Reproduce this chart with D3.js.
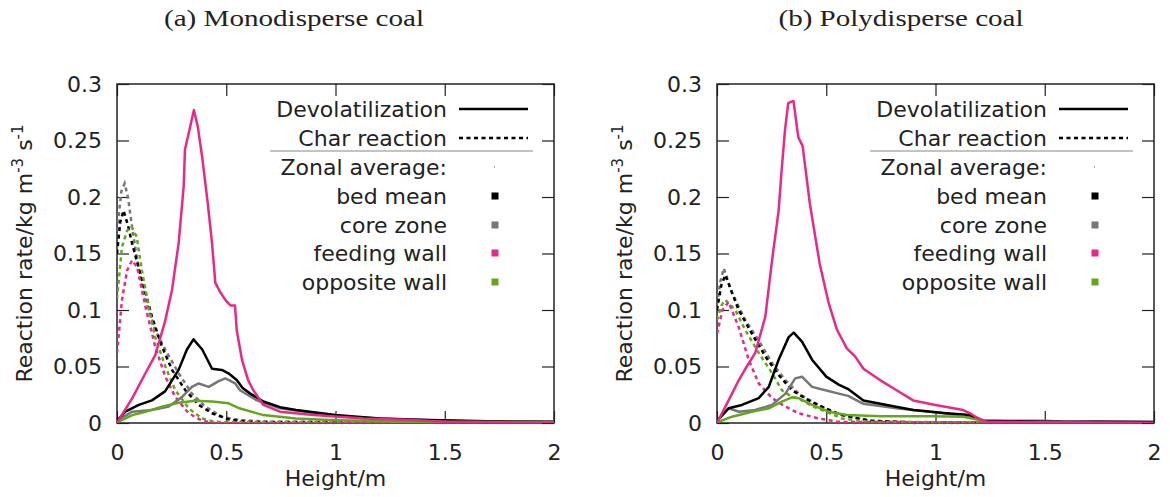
<!DOCTYPE html>
<html>
<head>
<meta charset="utf-8">
<script src="https://cdn.jsdelivr.net/npm/d3@7"></script>
<style>
  body { margin: 0; background: #fff; }
  svg text { fill: #222; }
</style>
</head>
<body>
<div id="myChart"></div>
<script>
// tick values / labels
let xTicks = [0, 0.5, 1, 1.5, 2];
let xTickLabels = ["0", "0.5", "1", "1.5", "2"];
let yTicks = [0, 0.05, 0.1, 0.15, 0.2, 0.25, 0.3];
let yTickLabels = ["0", "0.05", "0.1", "0.15", "0.2", "0.25", "0.3"];

let titles = ["(a) Monodisperse coal", "(b) Polydisperse coal"];
let zones = ["bed mean", "core zone", "feeding wall", "opposite wall"];

// (a) monodisperse - devolatilization, [height, rate]
let monoBedDevol = [[0,0.002],[0.038,0.010],[0.1,0.016],[0.16,0.020],[0.22,0.028],[0.282,0.047],[0.32,0.065],[0.35,0.074],[0.39,0.065],[0.435,0.048],[0.48,0.047],[0.51,0.044],[0.548,0.038],[0.575,0.031],[0.61,0.026],[0.67,0.019],[0.746,0.014],[0.82,0.0115],[1.0,0.007],[1.2,0.004],[1.43,0.0027],[1.7,0.0015],[2,0.001]];
let monoCoreDevol = [[0,0.002],[0.07,0.010],[0.16,0.0115],[0.237,0.0145],[0.297,0.023],[0.343,0.032],[0.374,0.035],[0.42,0.032],[0.465,0.037],[0.496,0.0395],[0.541,0.035],[0.563,0.029],[0.64,0.020],[0.746,0.013],[0.9,0.0088],[1.05,0.0056],[1.28,0.0033],[1.6,0.0015],[2,0.001]];
let monoFeedDevol = [[0,0],[0.07,0.022],[0.13,0.044],[0.175,0.06],[0.22,0.09],[0.252,0.118],[0.282,0.159],[0.305,0.209],[0.311,0.242],[0.33,0.258],[0.352,0.277],[0.37,0.262],[0.39,0.235],[0.415,0.195],[0.435,0.159],[0.45,0.124],[0.475,0.115],[0.496,0.109],[0.519,0.104],[0.54,0.104],[0.548,0.082],[0.572,0.056],[0.6,0.038],[0.624,0.029],[0.67,0.016],[0.746,0.010],[0.9,0.007],[1.13,0.004],[1.35,0.0027],[1.5,0.001],[2,0.0005]];
let monoOppDevol = [[0,0.0005],[0.07,0.007],[0.13,0.010],[0.206,0.0145],[0.282,0.018],[0.358,0.0197],[0.435,0.019],[0.511,0.0174],[0.56,0.013],[0.67,0.007],[0.82,0.004],[0.975,0.0027],[1.3,0.0012],[2,0.0008]];

// (a) monodisperse - char reaction
let monoBedChar = [[0,0.15],[0.015,0.178],[0.03,0.188],[0.05,0.175],[0.069,0.159],[0.114,0.127],[0.16,0.094],[0.206,0.0675],[0.252,0.047],[0.313,0.029],[0.374,0.016],[0.435,0.0086],[0.51,0.0033],[0.6,0.001],[2,0]];
let monoCoreChar = [[0,0.17],[0.02,0.205],[0.035,0.212],[0.05,0.2],[0.07,0.172],[0.1,0.135],[0.13,0.109],[0.175,0.082],[0.221,0.065],[0.282,0.044],[0.343,0.026],[0.404,0.0145],[0.48,0.0056],[0.557,0.0027],[0.7,0.001],[2,0]];
let monoFeedChar = [[0,0.062],[0.023,0.109],[0.046,0.135],[0.069,0.144],[0.092,0.138],[0.13,0.103],[0.175,0.0675],[0.221,0.041],[0.267,0.023],[0.328,0.0086],[0.389,0.002],[0.45,0],[2,0]];
let monoOppChar = [[0,0.11],[0.023,0.156],[0.046,0.17],[0.065,0.174],[0.09,0.165],[0.114,0.135],[0.145,0.103],[0.175,0.076],[0.221,0.05],[0.267,0.029],[0.328,0.013],[0.389,0.004],[0.45,0.001],[2,0]];

// (b) polydisperse - devolatilization
let polyBedDevol = [[0,0.002],[0.053,0.013],[0.114,0.016],[0.191,0.022],[0.237,0.032],[0.282,0.056],[0.328,0.076],[0.351,0.080],[0.389,0.072],[0.435,0.056],[0.5,0.041],[0.557,0.034],[0.6,0.03],[0.67,0.020],[0.777,0.016],[0.898,0.0115],[1.05,0.0086],[1.158,0.007],[1.219,0.002],[1.5,0.001],[2,0.0008]];
let polyCoreDevol = [[0,0.002],[0.053,0.013],[0.1,0.010],[0.175,0.0115],[0.252,0.016],[0.313,0.026],[0.358,0.0395],[0.389,0.041],[0.435,0.032],[0.496,0.029],[0.557,0.026],[0.6,0.024],[0.67,0.017],[0.822,0.013],[0.975,0.010],[1.158,0.006],[1.219,0.002],[1.5,0.002],[1.6,0.001],[1.75,0.0015],[2,0.0008]];
let polyFeedDevol = [[0,0],[0.053,0.02],[0.1,0.038],[0.13,0.048],[0.175,0.062],[0.221,0.094],[0.252,0.144],[0.282,0.188],[0.296,0.224],[0.311,0.259],[0.326,0.283],[0.35,0.285],[0.372,0.253],[0.392,0.245],[0.425,0.194],[0.47,0.141],[0.51,0.107],[0.548,0.083],[0.594,0.066],[0.632,0.059],[0.67,0.048],[0.746,0.038],[0.822,0.029],[0.898,0.020],[1.0,0.016],[1.127,0.0115],[1.158,0.0086],[1.196,0.004],[1.234,0.001],[2,0]];
let polyOppDevol = [[0,0.0005],[0.069,0.0056],[0.16,0.010],[0.237,0.013],[0.297,0.019],[0.343,0.0227],[0.374,0.022],[0.435,0.016],[0.511,0.010],[0.594,0.007],[0.75,0.006],[0.975,0.006],[1.127,0.0056],[1.19,0.003],[1.24,0.0005],[2,0]];

// (b) polydisperse - char reaction
let polyBedChar = [[0,0.1],[0.02,0.122],[0.038,0.131],[0.099,0.1],[0.16,0.079],[0.221,0.059],[0.282,0.0425],[0.343,0.029],[0.42,0.020],[0.496,0.013],[0.572,0.007],[0.7,0.002],[0.9,0.0005],[2,0]];
let polyCoreChar = [[0,0.105],[0.015,0.125],[0.031,0.137],[0.069,0.115],[0.13,0.091],[0.191,0.073],[0.252,0.053],[0.313,0.038],[0.374,0.026],[0.435,0.019],[0.511,0.0115],[0.572,0.007],[0.7,0.002],[0.9,0.0005],[2,0]];
let polyFeedChar = [[0,0.079],[0.025,0.1],[0.053,0.107],[0.099,0.085],[0.145,0.056],[0.191,0.035],[0.252,0.022],[0.313,0.0145],[0.374,0.0086],[0.466,0.004],[0.557,0.001],[2,0]];
let polyOppChar = [[0,0.091],[0.02,0.104],[0.038,0.109],[0.084,0.1],[0.13,0.082],[0.191,0.062],[0.252,0.044],[0.297,0.029],[0.343,0.023],[0.37,0.022],[0.435,0.015],[0.511,0.009],[0.572,0.004],[0.7,0.001],[2,0]];

let zoneColors = ["#000000", "#777777", "#e7298a", "#66a61e"];
let font = "'DejaVu Sans', Verdana, sans-serif";
let fontSize = "22px";

let svg = d3.select("#myChart")
    .append("svg")
        .attr("width", 1170)
        .attr("height", 497);

let panels = [
    {left: 117, titleX: 294, title: titles[0], devol: [monoBedDevol, monoCoreDevol, monoFeedDevol, monoOppDevol], chr: [monoBedChar, monoCoreChar, monoFeedChar, monoOppChar]},
    {left: 717, titleX: 901, title: titles[1], devol: [polyBedDevol, polyCoreDevol, polyFeedDevol, polyOppDevol], chr: [polyBedChar, polyCoreChar, polyFeedChar, polyOppChar]}
];

let width = 437, height = 339, plotTop = 84;

panels.forEach(function(p, i) {
    let g = svg.append("g").attr("transform", "translate(" + p.left + "," + plotTop + ")");

    let x = d3.scaleLinear().domain([0, 2]).range([0, width]);
    let y = d3.scaleLinear().domain([0, 0.3]).range([height, 0]);

    // title (LaTeX-like serif)
    svg.append("text")
        .attr("x", p.titleX)
        .attr("y", 26)
        .attr("text-anchor", "middle")
        .attr("textLength", i == 0 ? 260 : 245)
        .attr("lengthAdjust", "spacingAndGlyphs")
        .style("font-family", "'Liberation Serif', 'Times New Roman', serif")
        .style("font-size", "24px")
        .text(p.title);

    // axes, ticks inward and mirrored
    let styleAxis = function(sel) {
        sel.select(".domain").remove();
        sel.selectAll(".tick line").attr("stroke", "#222").attr("stroke-width", 1.2);
        sel.selectAll("text").style("font-family", font).style("font-size", fontSize).attr("fill", "#222");
    };
    g.append("g").attr("transform", "translate(0," + height + ")")
        .call(d3.axisBottom(x).tickValues(xTicks).tickFormat((d, k) => xTickLabels[k]).tickSize(-12).tickPadding(21))
        .call(styleAxis);
    g.append("g")
        .call(d3.axisTop(x).tickValues(xTicks).tickFormat("").tickSize(-12))
        .call(styleAxis);
    g.append("g")
        .call(d3.axisLeft(y).tickValues(yTicks).tickFormat((d, k) => yTickLabels[k]).tickSize(-12).tickPadding(15))
        .call(styleAxis);
    g.append("g").attr("transform", "translate(" + width + ",0)")
        .call(d3.axisRight(y).tickValues(yTicks).tickFormat("").tickSize(-12))
        .call(styleAxis);

    g.append("rect")
        .attr("width", width).attr("height", height)
        .attr("fill", "none").attr("stroke", "#222").attr("stroke-width", 1.5);

    // axis labels
    g.append("text")
        .attr("x", width / 2).attr("y", height + 63)
        .attr("text-anchor", "middle")
        .style("font-family", font).style("font-size", fontSize)
        .text("Height/m");

    let yl = g.append("text")
        .attr("transform", "translate(-85," + (height / 2) + ") rotate(-90)")
        .attr("text-anchor", "middle")
        .style("font-family", font).style("font-size", fontSize);
    yl.append("tspan").text("Reaction rate/kg m");
    yl.append("tspan").attr("dy", -9).style("font-size", "15px").text("-3");
    yl.append("tspan").attr("dy", 9).text(" s");
    yl.append("tspan").attr("dy", -9).style("font-size", "15px").text("-1");

    // curves
    g.append("clipPath").attr("id", "clip" + i)
        .append("rect").attr("width", width).attr("height", height);
    let plot = g.append("g").attr("clip-path", "url(#clip" + i + ")");
    let line = d3.line().x(d => x(d[0])).y(d => y(d[1]));

    [1, 0, 3, 2].forEach(function(k) {
        plot.append("path").datum(p.chr[k])
            .attr("d", line).attr("fill", "none")
            .attr("stroke", zoneColors[k]).attr("stroke-width", 2.5)
            .attr("stroke-dasharray", "4,3.5");
    });
    [1, 0, 3, 2].forEach(function(k) {
        plot.append("path").datum(p.devol[k])
            .attr("d", line).attr("fill", "none")
            .attr("stroke", zoneColors[k]).attr("stroke-width", 2.5)
            .attr("stroke-linejoin", "round");
    });

    // key
    let key = g.append("g");
    let tx = 330, sx0 = 342, sx1 = 411, rowY = [25, 54, 83, 112, 141, 169, 198];
    let keyText = function(yy, s) {
        key.append("text").attr("x", tx).attr("y", yy).attr("dy", "0.35em")
            .attr("text-anchor", "end")
            .style("font-family", font).style("font-size", fontSize).text(s);
    };
    keyText(rowY[0], "Devolatilization");
    key.append("line").attr("x1", sx0).attr("x2", sx1).attr("y1", rowY[0]).attr("y2", rowY[0])
        .attr("stroke", "#000").attr("stroke-width", 2.5);
    keyText(rowY[1], "Char reaction");
    key.append("line").attr("x1", sx0).attr("x2", sx1).attr("y1", rowY[1]).attr("y2", rowY[1])
        .attr("stroke", "#000").attr("stroke-width", 2.5).attr("stroke-dasharray", "4,3.5");
    key.append("line").attr("x1", 153).attr("x2", 416).attr("y1", 67).attr("y2", 67)
        .attr("stroke", "#888").attr("stroke-width", 1.2);
    keyText(rowY[2], "Zonal average:");
    key.append("rect").attr("x", 377).attr("y", rowY[2] - 0.5).attr("width", 1).attr("height", 1).attr("fill", "#555");
    zones.forEach(function(z, k) {
        keyText(rowY[3 + k], z);
        key.append("rect").attr("x", 374.5).attr("y", rowY[3 + k] - 3.5)
            .attr("width", 7).attr("height", 7).attr("fill", zoneColors[k]);
    });
});
</script>
</body>
</html>
